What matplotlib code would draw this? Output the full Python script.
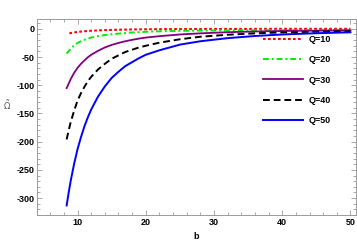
import matplotlib
matplotlib.use('Agg')
import matplotlib.pyplot as plt
from matplotlib.ticker import MultipleLocator

plt.rcParams['font.family'] = ['Liberation Sans', 'DejaVu Sans']
plt.rcParams['axes.unicode_minus'] = False

# ── 数据───────────────────────────────────────────────────────
b_grid = [8.4, 8.7, 9, 9.5, 10, 10.5, 11, 11.5, 12, 13, 14, 15, 16, 17, 18, 19,
          20, 22, 25, 28, 32, 36, 40, 45, 50]
b_red = [8.8, 9, 9.5, 10, 10.5, 11, 12, 14, 16, 18, 20, 25, 30, 36, 40, 45, 50]

q10 = [-8, -7.4, -6.4, -5.6, -4.9, -4.3, -3.4, -2.3, -1.6, -1.1, -0.8, -0.4,
       -0.2, -0.1, 0, 0, 0]
q20 = [-44, -39.5, -35, -29.5, -25, -22, -19.5, -17.3, -15.5, -13, -11, -9.6,
       -8.5, -7.4, -6.5, -5.9, -5.3, -4.4, -3.6, -3.1, -2.8, -2.6, -2.5, -2.4, -2.3]
q30 = [-105, -97, -89, -78, -69, -62, -56, -50.5, -46, -39, -33, -28.5,
       -25, -22, -19.5, -17.3, -15.5, -13, -10, -8, -6, -4.7, -3.8, -3.2, -2.8]
q40 = [-196, -180, -165, -145, -127, -114, -103, -93, -85, -72, -62, -53,
       -47, -41, -37, -33, -30, -24.5, -18.5, -14, -10.5, -8, -6.3, -5, -4]
q50 = [-313, -290, -269, -239, -213, -192, -173, -157, -143, -120, -102, -87,
       -76, -66, -59, -52, -46, -38, -28, -22, -16.5, -12.7, -10, -7.8, -6.2]

labels = ['Q=10', 'Q=20', 'Q=30', 'Q=40', 'Q=50']

FRAME = '#9a9a9a'
FS = 6.5

fig = plt.figure(figsize=(3.57, 2.43), dpi=100)
ax = fig.add_axes([0.1045, 0.115, 0.8925, 0.807])

ax.plot(b_red, q10, color='#ff0000', lw=1.5, ls=(0, (1.3, 1.1)), label=labels[0])
ax.plot(b_grid, q20, color='#00ee00', lw=1.4, ls=(0, (3, 1.5, 1, 1.5)), label=labels[1])
ax.plot(b_grid, q30, color='#800080', lw=1.3, label=labels[2])
ax.plot(b_grid, q40, color='black', lw=1.4, ls=(0, (3.5, 2)), label=labels[3])
ax.plot(b_grid, q50, color='#0000ff', lw=1.4, label=labels[4])

ax.set_xlim(4.1, 50.8)
ax.set_ylim(-330, 17.5)

ax.xaxis.set_major_locator(MultipleLocator(10))
ax.xaxis.set_minor_locator(MultipleLocator(2))
ax.yaxis.set_major_locator(MultipleLocator(50))
ax.yaxis.set_minor_locator(MultipleLocator(10))

ax.tick_params(which='both', direction='in', top=True, right=True,
               color=FRAME, width=0.6)
ax.tick_params(which='major', length=3.5, labelsize=FS, pad=2)
ax.tick_params(which='minor', length=2)
for lab in ax.get_xticklabels() + ax.get_yticklabels():
    lab.set_fontweight('bold')
for sp in ax.spines.values():
    sp.set_color(FRAME)
    sp.set_linewidth(0.7)

ax.set_xlabel('b', fontsize=FS, fontweight='bold', labelpad=4)
ax.set_ylabel(r'$\tilde{\Omega}$', fontsize=6, rotation=0, color='#555555')
ax.yaxis.set_label_coords(-0.094, 0.525)

ax.legend(loc='upper left', bbox_to_anchor=(263 / 357, 1 - 35 / 243),
          bbox_transform=fig.transFigure, frameon=False,
          prop={'weight': 'bold', 'size': FS}, handlelength=4.4,
          handletextpad=0.65, labelspacing=1.25, borderpad=0, borderaxespad=0)

fig.savefig('out.png', dpi=100)
